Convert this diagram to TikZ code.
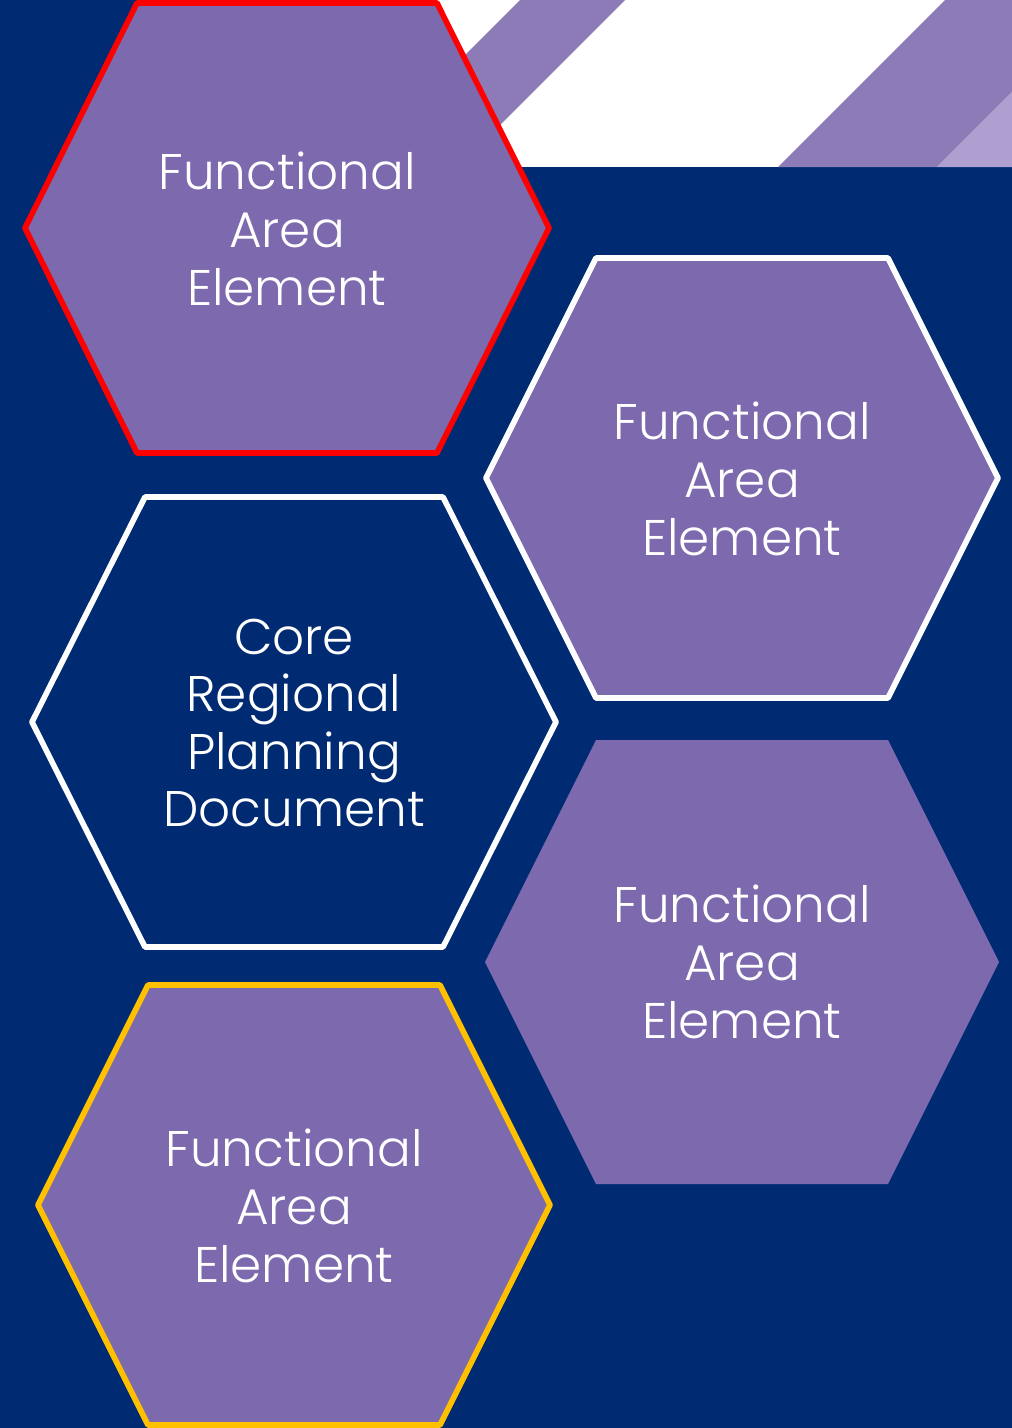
\documentclass[tikz,border=0pt]{standalone}
\usepackage{fontspec}
\setmainfont{Poppins Light}
\usepackage{tikz}
\definecolor{navy}{RGB}{0,43,115}
\definecolor{hexfill}{RGB}{125,105,173}
\definecolor{stripe}{RGB}{140,123,183}
\definecolor{stripelight}{RGB}{174,159,208}
\definecolor{redline}{RGB}{255,0,0}
\definecolor{goldline}{RGB}{255,192,0}

% hexagon: style, centre x, centre y, half width, half top edge, half height
\newcommand{\hexcell}[6]{%
  \path[#1,shift={(#2,#3)}] (-#4,0) -- (-#5,-#6) -- (#5,-#6) -- (#4,0) -- (#5,#6) -- (-#5,#6) -- cycle;}

\begin{document}
\begin{tikzpicture}[x=0.025cm,y=-0.025cm,
  hexbase/.style={line width=4pt,line join=round},
  hexred/.style={hexbase,fill=hexfill,draw=redline},
  hexwhite/.style={hexbase,fill=hexfill,draw=white},
  hexcore/.style={hexbase,fill=navy,draw=white},
  hexplain/.style={hexbase,fill=hexfill},
  hexgold/.style={hexbase,fill=hexfill,draw=goldline},
  every node/.style={text=white,align=center,inner sep=0,font=\fontsize{35.6}{41}\selectfont}]

\useasboundingbox (0,0) rectangle (1012,1428);
\fill[navy] (0,0) rectangle (1012,1428);

% banner in the top right corner
\begin{scope}
\clip (430,0) rectangle (1012,167);
\fill[white] (430,0) rectangle (1012,167);
\fill[stripe] (520,0) -- (625,0) -- (458,167) -- (353,167) -- cycle;
\fill[stripe] (945,0) -- (1104,0) -- (937,167) -- (778,167) -- cycle;
\fill[stripelight] (1104,0) -- (1300,0) -- (1300,167) -- (937,167) -- cycle;
\end{scope}

\hexcell{hexred}{287}{228}{262}{150}{225}
\hexcell{hexwhite}{742}{478}{256}{146}{220}
\hexcell{hexcore}{294}{722}{262}{149}{225}
\hexcell{hexplain}{742}{962}{257}{146}{222}
\hexcell{hexgold}{294}{1205}{256}{146}{220}

\node (fae1) at (287,229) {Functional\\Area\\Element};
\node (fae2) at (742,479) {Functional\\Area\\Element};
\node (core) at (294,723) {Core\\Regional\\Planning\\Document};
\node (fae3) at (742,962) {Functional\\Area\\Element};
\node (fae4) at (294,1206) {Functional\\Area\\Element};
\end{tikzpicture}
\end{document}
